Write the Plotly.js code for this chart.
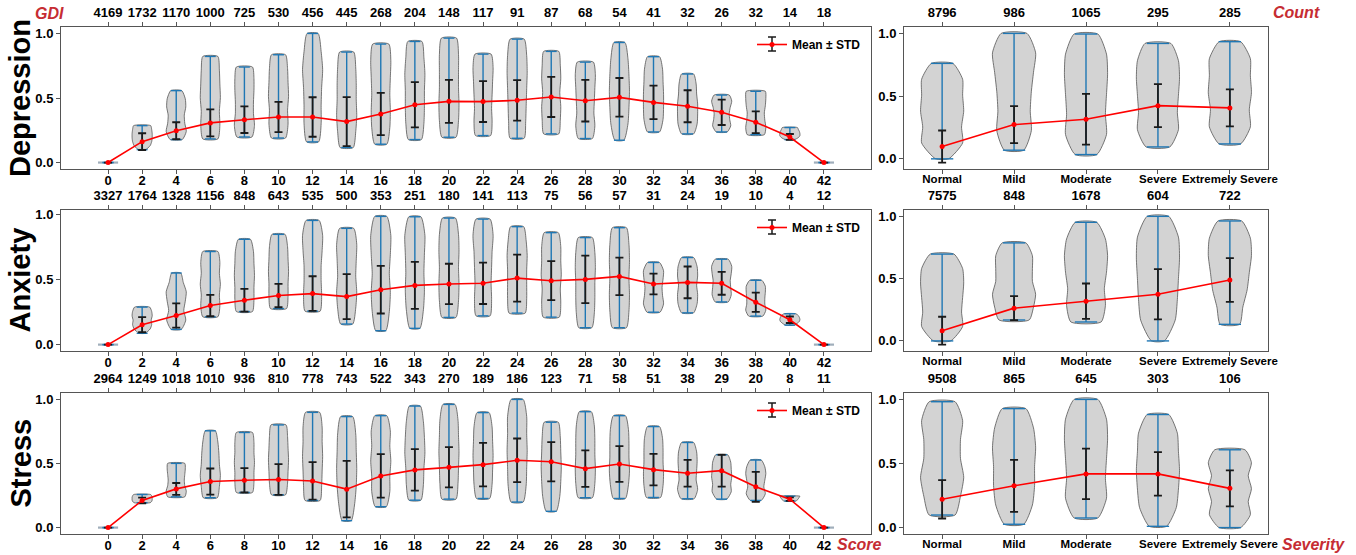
<!DOCTYPE html>
<html><head><meta charset="utf-8">
<script src="https://cdn.plot.ly/plotly-3.0.1.min.js"></script>
<style>html,body{margin:0;padding:0;background:#fff}#chart{width:1356px;height:555px}</style>
</head><body><div id="chart"></div>
<script>
// ---------- DATA ----------
const scores = [0,2,4,6,8,10,12,14,16,18,20,22,24,26,28,30,32,34,36,38,40,42];
const severities = ['Normal','Mild','Moderate','Severe','Extremely Severe'];

const depCounts = [4169,1732,1170,1000,725,530,456,445,268,204,148,117,91,87,68,54,41,32,26,32,14,18];
const anxCounts = [3327,1764,1328,1156,848,643,535,500,353,251,180,141,113,75,56,57,31,24,19,10,4,12];
const strCounts = [2964,1249,1018,1010,936,810,778,743,522,343,270,189,186,123,71,58,51,38,29,20,8,11];
const depSevCounts = [8796,986,1065,295,285];
const anxSevCounts = [7575,848,1678,604,722];
const strSevCounts = [9508,865,645,303,106];

const depMean = [0,0.162,0.247,0.307,0.332,0.353,0.353,0.317,0.376,0.448,0.474,0.472,0.482,0.508,0.479,0.505,0.466,0.436,0.389,0.312,0.198,0];
const depStd  = [0,0.065,0.065,0.105,0.103,0.117,0.153,0.190,0.164,0.175,0.166,0.158,0.157,0.155,0.161,0.150,0.130,0.124,0.098,0.084,0.023,0];
const depMin  = [0,0.100,0.178,0.183,0.198,0.190,0.160,0.116,0.142,0.178,0.196,0.209,0.188,0.222,0.186,0.173,0.237,0.222,0.237,0.216,0.178,0];
const depMax  = [0,0.286,0.557,0.822,0.740,0.835,1.000,0.856,0.918,0.938,0.964,0.840,0.956,0.861,0.778,0.930,0.820,0.686,0.523,0.552,0.271,0];

const anxMean = [0,0.153,0.224,0.300,0.341,0.377,0.392,0.369,0.422,0.455,0.466,0.471,0.511,0.491,0.501,0.524,0.466,0.478,0.471,0.326,0.191,0];
const anxStd  = [0,0.058,0.093,0.082,0.087,0.090,0.133,0.173,0.183,0.180,0.155,0.159,0.180,0.150,0.183,0.144,0.080,0.122,0.088,0.074,0.025,0];
const anxMin  = [0,0.087,0.117,0.214,0.254,0.277,0.257,0.158,0.107,0.125,0.209,0.221,0.242,0.211,0.130,0.130,0.249,0.244,0.328,0.219,0.150,0];
const anxMax  = [0,0.288,0.550,0.715,0.809,0.847,0.954,0.893,0.985,0.982,0.972,0.964,0.906,0.860,0.822,0.898,0.631,0.669,0.656,0.494,0.237,0];

const strMean = [0,0.212,0.302,0.359,0.369,0.375,0.364,0.300,0.403,0.450,0.470,0.491,0.525,0.514,0.460,0.496,0.452,0.424,0.444,0.318,0.222,0];
const strStd  = [0,0.022,0.046,0.102,0.095,0.120,0.146,0.220,0.170,0.162,0.157,0.170,0.170,0.153,0.142,0.140,0.123,0.105,0.124,0.117,0.013,0];
const strMin  = [0,0.194,0.240,0.233,0.274,0.256,0.212,0.054,0.163,0.214,0.222,0.227,0.199,0.127,0.233,0.227,0.235,0.225,0.222,0.212,0.207,0];
const strMax  = [0,0.258,0.501,0.755,0.742,0.801,0.899,0.866,0.873,0.948,0.961,0.897,1.000,0.822,0.904,0.873,0.788,0.664,0.568,0.527,0.245,0];

const depSevMean = [0.098,0.273,0.316,0.424,0.406];
const depSevStd  = [0.128,0.147,0.202,0.171,0.147];
const depSevMin  = [0.000,0.069,0.034,0.095,0.119];
const depSevMax  = [0.761,1.000,0.995,0.920,0.934];

const anxSevMean = [0.082,0.263,0.319,0.375,0.489];
const anxSevStd  = [0.112,0.096,0.142,0.202,0.175];
const anxSevMin  = [0.000,0.168,0.152,0.000,0.133];
const anxSevMax  = [0.697,0.787,0.952,1.000,0.963];

const strSevMean = [0.221,0.326,0.419,0.419,0.306];
const strSevStd  = [0.150,0.203,0.197,0.169,0.140];
const strSevMin  = [0.098,0.026,0.075,0.010,0.000];
const strSevMax  = [0.982,0.928,1.000,0.882,0.607];

// relative violin widths, bottom (min) to top (max)
const depShape = [
 [0,0,0,0,0,0,0],[0.35,0.8,0.95,1,1,0.95,0.85],[0.6,1,0.85,0.8,0.95,0.9,0.55],[0.75,0.95,0.9,1,0.95,0.9,0.75],
 [0.75,1,0.9,0.9,0.95,0.95,0.8],[0.7,0.95,0.9,1,0.95,0.9,0.7],[0.6,0.85,0.85,0.9,1,0.85,0.55],[0.65,0.9,1,0.95,0.95,0.9,0.7],
 [0.6,0.9,0.95,0.9,0.95,1,0.8],[0.65,0.9,0.95,0.95,1,0.9,0.7],[0.7,0.95,1,0.95,0.95,0.95,0.75],[0.75,0.9,0.85,0.9,0.95,1,0.8],
 [0.7,0.85,0.9,0.95,1,0.95,0.7],[0.75,0.9,0.95,0.85,0.95,0.9,0.75],[0.7,0.95,0.85,0.9,0.95,1,0.8],[0.45,0.85,0.95,1,0.95,0.85,0.55],
 [0.6,0.95,1,1,0.95,0.9,0.6],[0.6,0.95,1,1,0.9,0.85,0.6],[0.55,0.9,0.8,0.75,0.85,1,0.75],[0.85,1,0.9,0.85,0.95,1,0.95],
 [0.45,0.85,1,1,0.95,0.85,0.75],[0,0,0,0,0,0,0]];
const anxShape = [
 [0,0,0,0,0,0,0],[0.3,0.8,0.95,0.9,1,0.95,0.75],[0.5,0.95,0.75,0.9,1,0.7,0.45],[0.75,0.95,0.9,1,0.9,0.95,0.75],
 [0.8,0.95,0.95,1,0.95,0.9,0.6],[0.8,0.95,0.95,1,0.95,0.9,0.65],[0.75,0.9,0.85,0.85,0.95,1,0.65],[0.6,0.9,1,0.9,0.95,1,0.7],
 [0.5,0.85,0.95,0.85,0.95,1,0.6],[0.5,0.85,0.95,0.9,0.95,1,0.6],[0.7,0.95,1,0.95,1,0.95,0.65],[0.7,0.85,0.8,0.85,0.9,1,0.7],
 [0.8,0.95,0.95,0.95,1,0.9,0.65],[0.8,0.95,0.9,1,0.95,0.95,0.7],[0.65,0.9,0.95,0.95,1,0.95,0.7],[0.7,0.95,1,0.95,1,0.95,0.7],
 [0.65,1,0.9,0.85,0.95,1,0.6],[0.6,0.95,1,0.9,1,0.95,0.6],[0.65,0.95,0.9,0.85,0.95,1,0.65],[0.7,1,0.9,0.9,0.95,0.95,0.6],
 [0.45,0.75,0.95,1,0.95,0.85,0.6],[0,0,0,0,0,0,0]];
const strShape = [
 [0,0,0,0,0,0,0],[0.8,0.95,1,1,1,0.95,0.85],[0.85,1,0.85,0.8,0.85,0.9,0.85],[0.7,0.9,1,0.9,0.85,0.75,0.5],
 [0.8,0.95,0.95,1,0.95,0.95,0.8],[0.7,0.9,0.95,1,0.95,0.9,0.75],[0.75,0.9,0.95,1,0.95,0.95,0.7],[0.45,0.8,0.95,1,0.95,0.9,0.6],
 [0.55,0.9,0.9,1,0.9,0.95,0.6],[0.6,0.85,0.9,1,0.95,0.85,0.55],[0.7,0.9,0.95,1,0.95,0.9,0.6],[0.65,0.9,0.95,1,0.95,0.9,0.6],
 [0.6,0.9,0.95,1,0.95,0.95,0.6],[0.5,0.85,0.95,1,0.95,0.9,0.7],[0.7,0.95,1,0.95,0.95,0.9,0.6],[0.6,0.9,1,0.95,0.95,0.9,0.6],
 [0.7,0.95,1,0.95,0.95,0.9,0.6],[0.65,1,0.85,0.9,0.95,0.9,0.6],[0.5,0.95,0.9,1,0.95,0.9,0.6],[0.55,0.95,0.8,0.9,1,0.9,0.55],
 [0.6,0.7,0.8,0.85,0.9,0.95,1],[0,0,0,0,0,0,0]];
const depSevShape = [[0.3,0.95,0.9,1,0.95,0.95,0.5],[0.45,0.8,0.75,0.8,0.9,1,0.6],[0.5,0.95,0.9,0.95,1,0.95,0.55],[0.55,0.95,0.9,0.95,1,0.95,0.6],[0.5,0.95,0.9,1,0.95,0.95,0.5]];
const anxSevShape = [[0.4,0.95,0.9,0.95,1,0.95,0.55],[0.7,0.9,1,0.85,0.85,0.85,0.55],[0.7,0.9,0.85,0.95,1,0.9,0.5],[0.3,0.8,0.9,0.95,1,0.95,0.5],[0.45,0.6,0.8,0.9,1,0.95,0.55]];
const strSevShape = [[0.6,0.85,1,0.85,0.85,0.95,0.6],[0.45,0.85,0.95,0.95,1,0.9,0.55],[0.55,0.95,0.9,0.95,1,0.95,0.55],[0.4,0.85,0.95,1,0.95,0.9,0.5],[0.5,0.95,0.85,1,0.85,1,0.7]];

// ---------- DRAWING ----------
const FONT = 'Liberation Sans, Arial, sans-serif';
const RED_LBL = '#C62D33';
const BLUE = '#1f77b4';
const traces = [];

function panel(xa, ya, xs, mins, maxs, means, stds, shapes, halfW, capHalf, legendId) {
  xs.forEach((x, i) => {
    const lo = mins[i], hi = maxs[i];
    if (hi - lo < 1e-6) {
      traces.push({type:'scatter', mode:'lines', xaxis:xa, yaxis:ya, x:[x-halfW, x+halfW], y:[lo, lo],
        line:{color:'rgba(150,165,180,0.9)', width:2.2}, hoverinfo:'skip', showlegend:false});
      return;
    }
    const prof = shapes[i], n = prof.length;
    const px = [], py = [];
    for (let k = 0; k < n; k++) { px.push(x + prof[k]*halfW); py.push(lo + (hi-lo)*k/(n-1)); }
    for (let k = n-1; k >= 0; k--) { px.push(x - prof[k]*halfW); py.push(lo + (hi-lo)*k/(n-1)); }
    px.push(px[0]); py.push(py[0]);
    traces.push({type:'scatter', mode:'lines', xaxis:xa, yaxis:ya, x:px, y:py, fill:'toself',
      fillcolor:'#d3d3d3', line:{color:'#555', width:0.8, shape:'spline', smoothing:0.6},
      hoverinfo:'skip', showlegend:false});
  });
  const bx = [], by = [];
  xs.forEach((x, i) => {
    const lo = mins[i], hi = maxs[i];
    if (hi - lo > 1e-6) { bx.push(x, x, null); by.push(lo, hi, null); }
    bx.push(x-capHalf, x+capHalf, null); by.push(lo, lo, null);
    bx.push(x-capHalf, x+capHalf, null); by.push(hi, hi, null);
  });
  traces.push({type:'scatter', mode:'lines', xaxis:xa, yaxis:ya, x:bx, y:by,
    line:{color:BLUE, width:1.4}, hoverinfo:'skip', showlegend:false, connectgaps:false});
  traces.push({type:'scatter', mode:'lines+markers', xaxis:xa, yaxis:ya, x:xs, y:means,
    name:'Mean ± STD', showlegend: !!legendId, legend: legendId || 'legend',
    line:{color:'#ff0000', width:1.6}, marker:{color:'#ff0000', size:5},
    error_y:{type:'data', array:stds, visible:true, color:'#1a1a1a', thickness:1.8, width:4}});
}

const sevX = severities.map((s, i) => i);
panel('x',  'y',  scores, depMin, depMax, depMean, depStd, depShape, 0.59, 0.32, 'legend');
panel('x2', 'y2', sevX, depSevMin, depSevMax, depSevMean, depSevStd, depSevShape, 0.30, 0.155, null);
panel('x3', 'y3', scores, anxMin, anxMax, anxMean, anxStd, anxShape, 0.59, 0.32, 'legend2');
panel('x4', 'y4', sevX, anxSevMin, anxSevMax, anxSevMean, anxSevStd, anxSevShape, 0.30, 0.155, null);
panel('x5', 'y5', scores, strMin, strMax, strMean, strStd, strShape, 0.59, 0.32, 'legend3');
panel('x6', 'y6', sevX, strSevMin, strSevMax, strSevMean, strSevStd, strSevShape, 0.30, 0.155, null);

for (let k = 7; k <= 12; k++) {
  const base = k - 6;
  traces.push({type:'scatter', mode:'markers', xaxis:'x'+k, yaxis: base === 1 ? 'y' : 'y'+base,
    x:[0], y:[null], hoverinfo:'skip', showlegend:false});
}

const W = 1356, H = 555;
const LX = [61/W, 871/W], RX = [904/W, 1268/W];
const rowsPx = [[27,169],[210,351],[393,534]];
const YD = rowsPx.map(r => [(H - r[1])/H, (H - r[0])/H]);
const tickFont = {family:FONT, size:13, color:'#000', weight:700};
const sevFont = {family:FONT, size:11.5, color:'#000', weight:700};
const AXC = '#555';

function xAx(domain, range, vals, text, anchor, font) {
  return {domain, range, anchor, tickmode:'array', tickvals:vals, ticktext:text, tickfont:font, tickangle:0,
    ticks:'outside', ticklen:4, tickwidth:1, tickcolor:AXC, showline:true, linecolor:AXC, linewidth:1,
    ticklabelstandoff:-5, automargin:false,
    mirror:true, showgrid:false, zeroline:false, fixedrange:true};
}
function topAx(over, anchor, range, vals, text) {
  return {overlaying:over, anchor, side:'top', range, tickmode:'array', tickvals:vals, ticktext:text, tickangle:0,
    tickfont:tickFont, ticks:'outside', ticklen:4, tickwidth:1, tickcolor:AXC, showline:false, automargin:false,
    showgrid:false, zeroline:false, fixedrange:true};
}
function yAx(domain, range, anchor) {
  return {domain, range, anchor, tickmode:'array', tickvals:[0,0.5,1], ticktext:['0.0','0.5','1.0'],
    tickfont:tickFont, ticks:'outside', ticklen:4, tickwidth:1, tickcolor:AXC, showline:true, automargin:false,
    linecolor:AXC, linewidth:1, mirror:true, showgrid:false, zeroline:false, fixedrange:true};
}

const LR = [-2.76, 44.76], RR = [-0.53, 4.53];
const scoreText = scores.map(String);
const layout = {
  width:W, height:H, margin:{l:0,r:0,t:0,b:0}, paper_bgcolor:'#fff', plot_bgcolor:'#fff',
  font:{family:FONT},
  xaxis:  xAx(LX, LR, scores, scoreText, 'y', tickFont),
  xaxis2: xAx(RX, RR, sevX, severities, 'y2', sevFont),
  xaxis3: xAx(LX, LR, scores, scoreText, 'y3', tickFont),
  xaxis4: xAx(RX, RR, sevX, severities, 'y4', sevFont),
  xaxis5: xAx(LX, LR, scores, scoreText, 'y5', tickFont),
  xaxis6: xAx(RX, RR, sevX, severities, 'y6', sevFont),
  xaxis7:  topAx('x',  'y',  LR, scores, depCounts.map(String)),
  xaxis8:  topAx('x2', 'y2', RR, sevX, depSevCounts.map(String)),
  xaxis9:  topAx('x3', 'y3', LR, scores, anxCounts.map(String)),
  xaxis10: topAx('x4', 'y4', RR, sevX, anxSevCounts.map(String)),
  xaxis11: topAx('x5', 'y5', LR, scores, strCounts.map(String)),
  xaxis12: topAx('x6', 'y6', RR, sevX, strSevCounts.map(String)),
  yaxis:  yAx(YD[0], [-0.05, 1.05], 'x'),
  yaxis2: yAx(YD[0], [-0.081, 1.051], 'x2'),
  yaxis3: yAx(YD[1], [-0.049, 1.034], 'x3'),
  yaxis4: yAx(YD[1], [-0.081, 1.051], 'x4'),
  yaxis5: yAx(YD[2], [-0.05, 1.05], 'x5'),
  yaxis6: yAx(YD[2], [-0.05, 1.05], 'x6'),
  showlegend:true,
  annotations:[],
  shapes:[],
};
const legBase = {xanchor:'right', yanchor:'top', bgcolor:'rgba(0,0,0,0)', borderwidth:0,
  font:{family:FONT, size:12, color:'#000', weight:700}, itemwidth:30, tracegroupgap:0};
layout.legend  = Object.assign({}, legBase, {x:866/W, y:(H-30)/H});
layout.legend2 = Object.assign({}, legBase, {x:866/W, y:(H-213)/H});
layout.legend3 = Object.assign({}, legBase, {x:866/W, y:(H-396)/H});

// error-bar glyph in each legend icon
[44, 227, 410].forEach(cy => {
  const lx = 772, s = {type:'line', xref:'paper', yref:'paper', line:{color:'#1a1a1a', width:1.5}};
  layout.shapes.push(Object.assign({}, s, {x0:lx/W, x1:lx/W, y0:(H-cy+7)/H, y1:(H-cy-7)/H}));
  layout.shapes.push(Object.assign({}, s, {x0:(lx-4)/W, x1:(lx+4)/W, y0:(H-cy+7)/H, y1:(H-cy+7)/H}));
  layout.shapes.push(Object.assign({}, s, {x0:(lx-4)/W, x1:(lx+4)/W, y0:(H-cy-7)/H, y1:(H-cy-7)/H}));
});

const rowTitles = ['Depression','Anxiety','Stress'];
rowTitles.forEach((t, r) => {
  const cy = (rowsPx[r][0] + rowsPx[r][1]) / 2;
  layout.annotations.push({text:t, xref:'paper', yref:'paper', x:20/W, y:(H-cy)/H, xanchor:'center',
    yanchor:'middle', textangle:-90, showarrow:false, font:{family:FONT, size:29, color:'#000', weight:700}});
});
const redLabels = [['GDI',49,14],['Count',1296,13],['Score',859,544],['Severity',1313,544]];
redLabels.forEach(l => {
  layout.annotations.push({text:l[0], xref:'paper', yref:'paper', x:l[1]/W, y:(H-l[2])/H, xanchor:'center',
    yanchor:'middle', showarrow:false, font:{family:FONT, size:16, color:RED_LBL, weight:700, style:'italic'}});
});

Plotly.newPlot('chart', traces, layout, {displayModeBar:false, staticPlot:true});
</script></body></html>
